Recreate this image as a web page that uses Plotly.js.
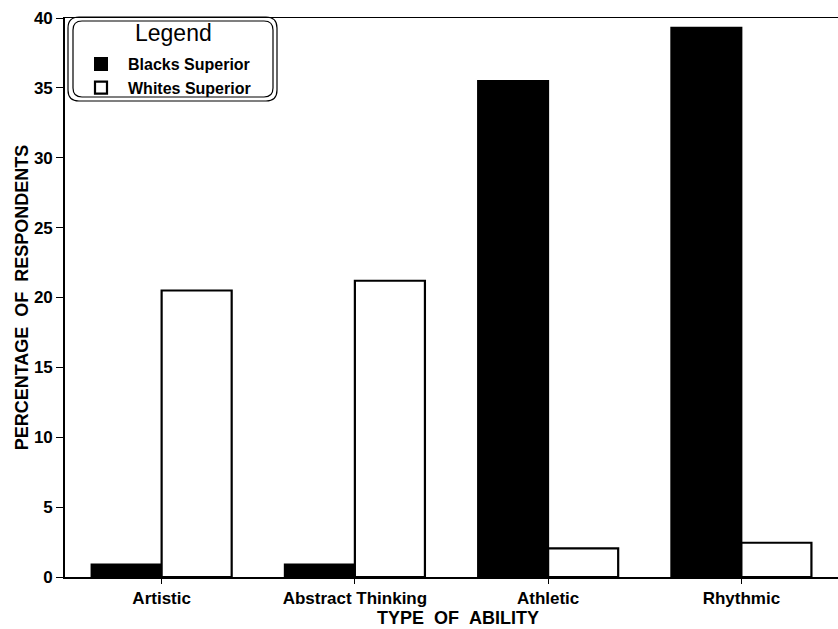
<!DOCTYPE html>
<html><head><meta charset="utf-8">
<script src="https://cdn.plot.ly/plotly-3.0.1.min.js"></script>
<style>html,body{margin:0;padding:0;background:#fff}</style>
</head><body>
<div id="chart" style="width:838px;height:629px"></div>
<script>
const categories = ["Artistic", "Abstract Thinking", "Athletic", "Rhythmic"];
const blacksSuperior = [0.9, 0.9, 35.5, 39.3];
const whitesSuperior = [20.5, 21.2, 2.05, 2.45];
const seriesNames = ["Blacks Superior", "Whites Superior"];
const yTicks = [0, 5, 10, 15, 20, 25, 30, 35, 40];
const legendTitle = "Legend";
const xTitle = "TYPE\u00A0\u00A0OF\u00A0\u00A0ABILITY";
const yTitle = "PERCENTAGE\u00A0\u00A0OF\u00A0\u00A0RESPONDENTS";

const FONT = "Liberation Sans, Arial, sans-serif";
const BOLD = {family: FONT, weight: "bold"};
const traces = [
  {type: "bar", name: seriesNames[0], x: categories, y: blacksSuperior,
   marker: {color: "#000", line: {color: "#000", width: 2}}},
  {type: "bar", name: seriesNames[1], x: categories, y: whitesSuperior,
   marker: {color: "#fff", line: {color: "#000", width: 2.2}}}
];

const pw = 838 - 65, ph = 629 - 18 - 52;
function px(x) { return (x - 65) / pw; }
function py(y) { return 1 - (y - 18) / ph; }
function rrectPaper(x0, y0, x1, y1, r) {
  const X0 = px(x0), X1 = px(x1), Y0 = py(y0), Y1 = py(y1);
  const rx = r / pw, ry = r / ph;
  return `M${X0+rx},${Y0} L${X1-rx},${Y0} Q${X1},${Y0} ${X1},${Y0-ry} L${X1},${Y1+ry} Q${X1},${Y1} ${X1-rx},${Y1} L${X0+rx},${Y1} Q${X0},${Y1} ${X0},${Y1+ry} L${X0},${Y0-ry} Q${X0},${Y0} ${X0+rx},${Y0} Z`;
}

const layout = {
  width: 838, height: 629,
  margin: {l: 65, r: 0, t: 18, b: 52},
  paper_bgcolor: "#fff", plot_bgcolor: "#fff",
  font: {family: FONT, color: "#000", size: 16},
  barmode: "group", bargap: 0.275, bargroupgap: 0,
  showlegend: true,
  legend: {
    x: px(74), y: py(47), xanchor: "left", yanchor: "top",
    bgcolor: "rgba(0,0,0,0)", borderwidth: 0,
    font: Object.assign({size: 16}, BOLD), tracegroupgap: 0, itemwidth: 44
  },
  xaxis: {
    type: "category", range: [-0.5, 3.5],
    showline: true, linecolor: "#000", linewidth: 1.5, mirror: true,
    ticks: "outside", ticklen: 5, tickcolor: "#000",
    tickfont: Object.assign({size: 17}, BOLD),
    showgrid: false, zeroline: false
  },
  yaxis: {
    range: [0, 40], tickvals: yTicks,
    showline: true, linecolor: "#000", linewidth: 1.8,
    ticks: "outside", ticklen: 7, tickcolor: "#000",
    tickfont: Object.assign({size: 17}, BOLD),
    showgrid: false, zeroline: false,
    title: {text: yTitle, font: Object.assign({size: 18}, BOLD), standoff: 0}
  },
  annotations: [
    {text: legendTitle, xref: "paper", yref: "paper", x: px(173), y: py(33),
     xanchor: "center", yanchor: "middle", showarrow: false,
     font: {family: FONT, size: 23, weight: "normal"}},
    {text: xTitle, xref: "paper", yref: "paper", x: px(458), y: py(618),
     xanchor: "center", yanchor: "middle", showarrow: false,
     font: Object.assign({size: 18}, BOLD)}
  ],
  shapes: [
    {type: "path", xref: "paper", yref: "paper", layer: "above",
     path: rrectPaper(68, 17, 277, 101, 11), line: {color: "#000", width: 1.2}},
    {type: "path", xref: "paper", yref: "paper", layer: "above",
     path: rrectPaper(73, 21, 273, 97, 9), line: {color: "#000", width: 1.2}}
  ]
};

Plotly.newPlot("chart", traces, layout, {displayModeBar: false, staticPlot: true});
</script>
</body></html>
